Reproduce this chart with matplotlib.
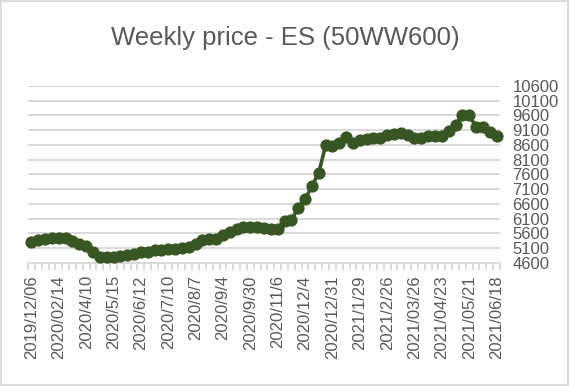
import matplotlib
matplotlib.use("Agg")
import matplotlib.pyplot as plt
from matplotlib.patches import Rectangle

title = "Weekly price - ES (50WW600)"

prices = [5300, 5380, 5400, 5430, 5450, 5440, 5350, 5250, 5180, 4950,
          4800, 4780, 4800, 4830, 4870, 4900, 4950, 4980, 5020, 5040,
          5060, 5080, 5110, 5150, 5250, 5380, 5400, 5420, 5550, 5650,
          5750, 5800, 5820, 5820, 5780, 5760, 5750, 6000, 6040, 6470,
          6750, 7200, 7650, 8580, 8560, 8650, 8880, 8680, 8760, 8800,
          8830, 8850, 8930, 8960, 9000, 8940, 8850, 8850, 8900, 8890,
          8900, 9080, 9280, 9620, 9620, 9200, 9220, 9030, 8900]

tick_labels = ["2019/12/06", "2020/02/14", "2020/4/10", "2020/5/15", "2020/6/12",
               "2020/7/10", "2020/8/7", "2020/9/4", "2020/9/30", "2020/11/6",
               "2020/12/4", "2020/12/31", "2021/1/29", "2021/2/26", "2021/03/26",
               "2021/04/23", "2021/05/21", "2021/06/18"]
label_step = 4

y_ticks = list(range(4600, 10601, 500))

plt.rcParams['font.family'] = ['Liberation Sans', 'DejaVu Sans']
gray_text = "#595959"
grid_col = "#d9d9d9"
line_col = "#375623"

fig = plt.figure(figsize=(5.7, 3.86), dpi=100)
fig.patches.append(Rectangle((0.002, 0.003), 0.994, 0.994, transform=fig.transFigure,
                             fill=False, edgecolor=grid_col, linewidth=1.3))

ax = fig.add_axes([28/570, 123.3/386, 472/570, 176.7/386])
x = list(range(len(prices)))
ax.plot(x, prices, color=line_col, linewidth=2.6, marker='o', markersize=7.8,
        markerfacecolor=line_col, markeredgecolor=line_col, zorder=3, clip_on=False)

ax.set_xlim(-0.5, len(prices) - 0.5)
ax.set_ylim(4600, 10600)
ax.set_yticks(y_ticks)
ax.set_yticklabels([str(v) for v in y_ticks])
ax.yaxis.tick_right()
ax.tick_params(axis='y', length=0, pad=9, labelsize=12, labelcolor=gray_text)
ax.grid(axis='y', color=grid_col, linewidth=1.4, zorder=0)
ax.set_axisbelow(True)

pos = list(range(0, len(prices), label_step))
ax.set_xticks(pos)
ax.set_xticklabels(tick_labels, rotation=90, fontsize=12, color=gray_text)
ax.tick_params(axis='x', length=0, pad=9)
ax.set_xticks([i - 0.5 for i in range(len(prices) + 1)], minor=True)
ax.tick_params(axis='x', which='minor', length=5, width=1.3, color=grid_col, direction='out')

for s in ['top', 'left', 'right']:
    ax.spines[s].set_visible(False)
ax.spines['bottom'].set_color(grid_col)
ax.spines['bottom'].set_linewidth(1.4)

fig.text(0.5, 1 - 38/386, title, ha='center', va='center', fontsize=18.5, color=gray_text)

fig.savefig("out.png", dpi=100)
